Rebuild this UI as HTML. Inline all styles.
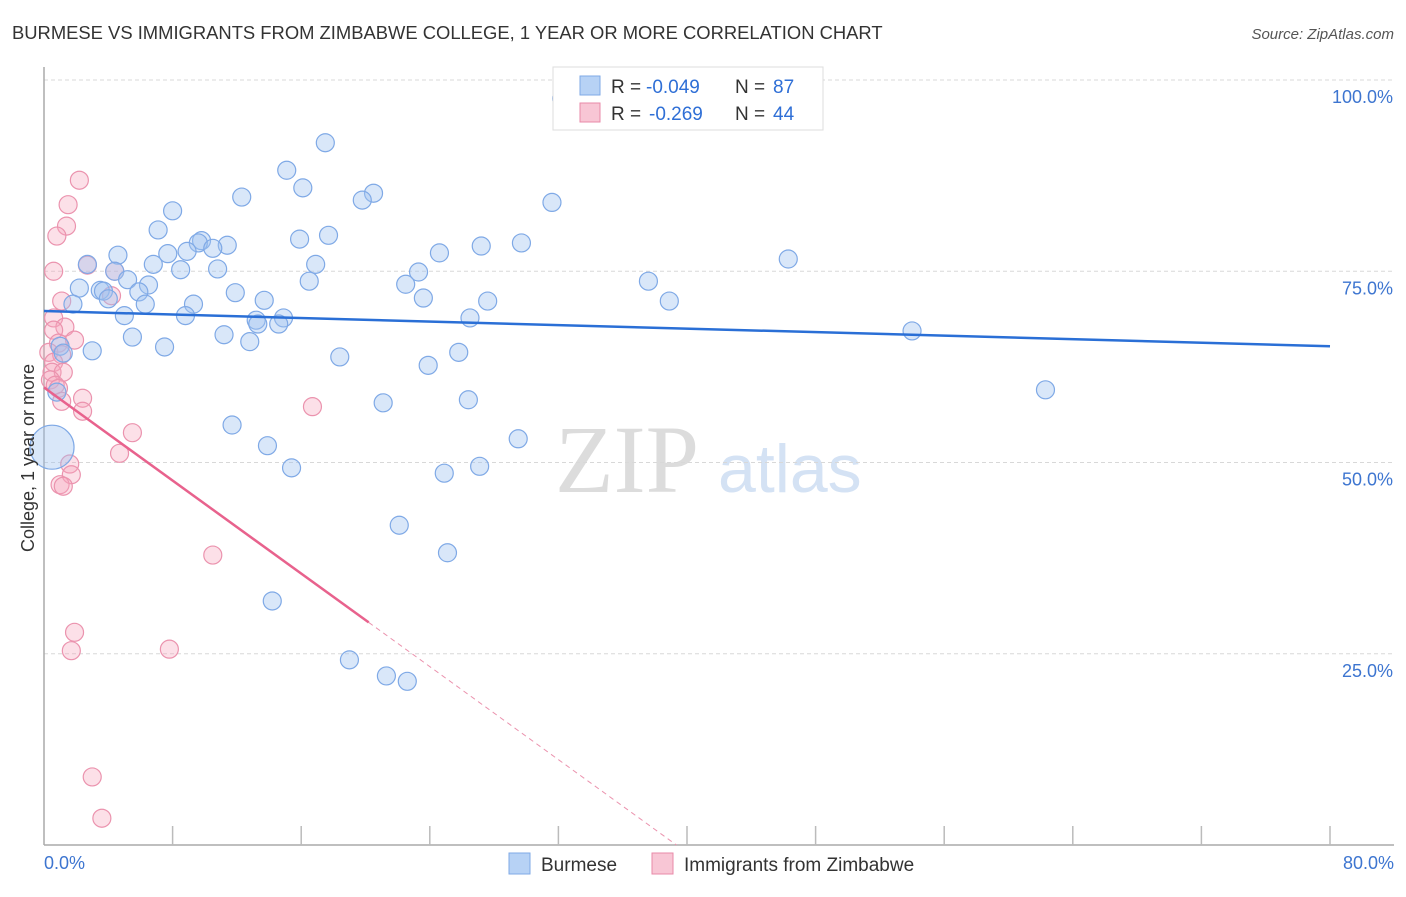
<!DOCTYPE html>
<html><head><meta charset="utf-8"><style>
body{margin:0;background:#fff;font-family:"Liberation Sans",sans-serif;}
svg text{font-family:"Liberation Sans",sans-serif;}
</style></head><body>
<svg id="chart" width="1406" height="892" viewBox="0 0 1406 892">
<text x="12" y="39" font-size="18.4" fill="#333">BURMESE VS IMMIGRANTS FROM ZIMBABWE COLLEGE, 1 YEAR OR MORE CORRELATION CHART</text>
<text x="1394" y="39" font-size="15" fill="#555" font-style="italic" text-anchor="end">Source: ZipAtlas.com</text>
<text x="555" y="492" font-size="96" fill="#dcdcdc" style="font-family:'Liberation Serif',serif">ZIP</text>
<text x="718" y="492" font-size="68" fill="#d4e2f4">atlas</text>
<g id="grid"></g>
<g id="axes"></g>
<g id="pts"></g>
<g id="lines"></g>
<text transform="translate(34,458) rotate(-90)" font-size="18" fill="#333" text-anchor="middle">College, 1 year or more</text>
<g>
<rect x="553" y="67" width="270" height="63" fill="#fff" stroke="#ddd"/>
<rect x="580" y="76" width="20" height="19" fill="#b7d2f5" stroke="#7fa9e6"/>
<rect x="580" y="103" width="20" height="19" fill="#f8c6d5" stroke="#e88aa8"/>
<text x="611" y="93" font-size="19" fill="#333">R =</text>
<text x="646" y="93" font-size="19" fill="#2f6fd6">-0.049</text>
<text x="735" y="93" font-size="19" fill="#333">N =</text>
<text x="773" y="93" font-size="19" fill="#2f6fd6">87</text>
<text x="611" y="120" font-size="19" fill="#333">R =</text>
<text x="649" y="120" font-size="19" fill="#2f6fd6">-0.269</text>
<text x="735" y="120" font-size="19" fill="#333">N =</text>
<text x="773" y="120" font-size="19" fill="#2f6fd6">44</text>
</g>
<g>
<rect x="509" y="853" width="21" height="21" fill="#b7d2f5" stroke="#7fa9e6"/>
<text x="541" y="871" font-size="19" fill="#333">Burmese</text>
<rect x="652" y="853" width="21" height="21" fill="#f8c6d5" stroke="#e88aa8"/>
<text x="684" y="871" font-size="19" fill="#333">Immigrants from Zimbabwe</text>
</g>
</svg>
<script>
const blueX=[32.2,40.0,17.5,15.1,16.1,20.5,19.8,31.6,8.0,12.3,7.1,15.9,17.7,9.8,9.6,11.4,10.5,7.7,4.6,8.9,24.6,27.2,29.7,46.3,2.7,6.8,8.5,10.8,16.9,4.4,23.3,5.2,16.5,37.6,6.5,2.2,3.5,3.7,22.5,11.9,5.9,4.0,13.7,9.3,27.6,23.6,38.9,1.8,6.3,5.0,8.8,13.2,14.9,13.3,14.6,26.5,54.0,5.5,11.2,12.8,7.5,3.0,1.0,1.2,25.8,18.4,23.9,62.3,0.8,21.1,26.4,11.7,29.5,0.5,13.9,15.4,27.1,24.9,22.1,25.1,14.2,19.0,21.3,22.6];
const blueY=[97.6,99.7,91.8,88.2,85.9,85.2,84.3,84.0,82.9,84.7,80.4,79.2,79.7,79.0,78.7,78.4,78.0,77.3,77.1,77.6,77.4,78.3,78.7,76.6,75.9,75.9,75.2,75.3,75.9,75.0,74.9,73.9,73.7,73.7,73.2,72.8,72.5,72.4,73.3,72.2,72.3,71.4,71.2,70.7,71.1,71.5,71.1,70.7,70.7,69.2,69.2,68.6,68.9,68.1,68.1,68.9,67.2,66.4,66.7,65.8,65.1,64.6,65.2,64.3,64.4,63.8,62.7,59.5,59.2,57.8,58.2,54.9,53.1,52.0,52.2,49.3,49.5,48.6,41.8,38.2,31.9,24.2,22.1,21.4];
const pinkX=[2.2,1.5,1.4,0.8,0.6,2.7,4.4,1.1,4.2,0.6,1.3,1.9,0.6,0.9,0.3,1.1,0.6,0.5,1.2,0.4,0.7,0.9,1.1,2.4,2.4,5.5,4.7,1.6,1.7,1.0,1.2,16.7,10.5,1.9,1.7,7.8,3.0,3.6];
const pinkY=[86.9,83.7,80.9,79.6,75.0,75.8,75.0,71.1,71.8,68.9,67.7,66.0,67.3,65.6,64.4,64.1,63.1,61.8,61.8,60.8,60.1,59.7,58.0,58.4,56.7,53.9,51.2,49.8,48.4,47.1,46.9,57.3,37.9,27.8,25.4,25.6,8.9,3.5];
const blueTrend=[69.8,65.2];
const pinkTrend=[59.8,-1.52];
const yTicks=[25,50,75,100];
const yTickLabels=["25.0%","50.0%","75.0%","100.0%"];
const xTickVals=[0,8,16,24,32,40,48,56,64,72,80];
const X=v=>44+v*16.075, Y=v=>845-v*7.65;
const NS="http://www.w3.org/2000/svg";
function mk(tag,attrs,parent){const e=document.createElementNS(NS,tag);for(const k in attrs)e.setAttribute(k,attrs[k]);document.getElementById(parent).appendChild(e);return e;}
yTicks.forEach((t,i)=>{
 const l=mk('line',{x1:44,x2:1394,y1:Y(t),y2:Y(t),stroke:'#d8d8d8','stroke-dasharray':'4,3'},'grid');
 
 
 const tx=mk('text',{x:1393,y:Y(t)+23,'font-size':18,fill:'#3d75d0','text-anchor':'end'},'grid');
 tx.textContent=yTickLabels[i];
 
 
});
const ya=mk('line',{x1:44,x2:44,y1:67,y2:845,stroke:'#aaa','stroke-width':1.5},'axes');


const xa=mk('line',{x1:44,x2:1394,y1:845,y2:845,stroke:'#aaa','stroke-width':1.5},'axes');


xTickVals.slice(1).forEach(v=>{
 const t=mk('line',{x1:X(v),x2:X(v),y1:826,y2:845,stroke:'#bbb','stroke-width':1.5},'axes');
 
 
});
const xl=mk('text',{x:44,y:869,'font-size':18,fill:'#3d75d0'},'axes');xl.textContent='0.0%';


const xr=mk('text',{x:1394,y:869,'font-size':18,fill:'#3d75d0','text-anchor':'end'},'axes');xr.textContent='80.0%';


pinkX.forEach((x,i)=>{
 const c=mk('circle',{cx:X(x),cy:Y(pinkY[i]),r:9,fill:'rgba(245,165,190,0.35)',stroke:'#eb93ae','stroke-width':1.2},'pts');
 
 
});
blueX.forEach((x,i)=>{
 const big=(x<1&&Math.abs(blueY[i]-52)<0.5);
 const c=mk('circle',{cx:X(x),cy:Y(blueY[i]),r:big?22:9,fill:'rgba(160,195,240,0.4)',stroke:'#7fa9e6','stroke-width':1.2},'pts');
 
 
});
const bl=mk('line',{x1:X(0),y1:Y(blueTrend[0]),x2:X(80),y2:Y(blueTrend[1]),stroke:'#2a6fd6','stroke-width':2.5},'lines');


const pf=x=>pinkTrend[0]+pinkTrend[1]*x;
const ps=mk('line',{x1:X(0),y1:Y(pf(0)),x2:X(20.2),y2:Y(pf(20.2)),stroke:'#e8628d','stroke-width':2.5},'lines');


const xe=-pinkTrend[0]/pinkTrend[1];
const pd=mk('line',{x1:X(20.2),y1:Y(pf(20.2)),x2:X(xe),y2:Y(0),stroke:'#eb93ae','stroke-width':1,'stroke-dasharray':'5,4'},'lines');


</script>
</body></html>
